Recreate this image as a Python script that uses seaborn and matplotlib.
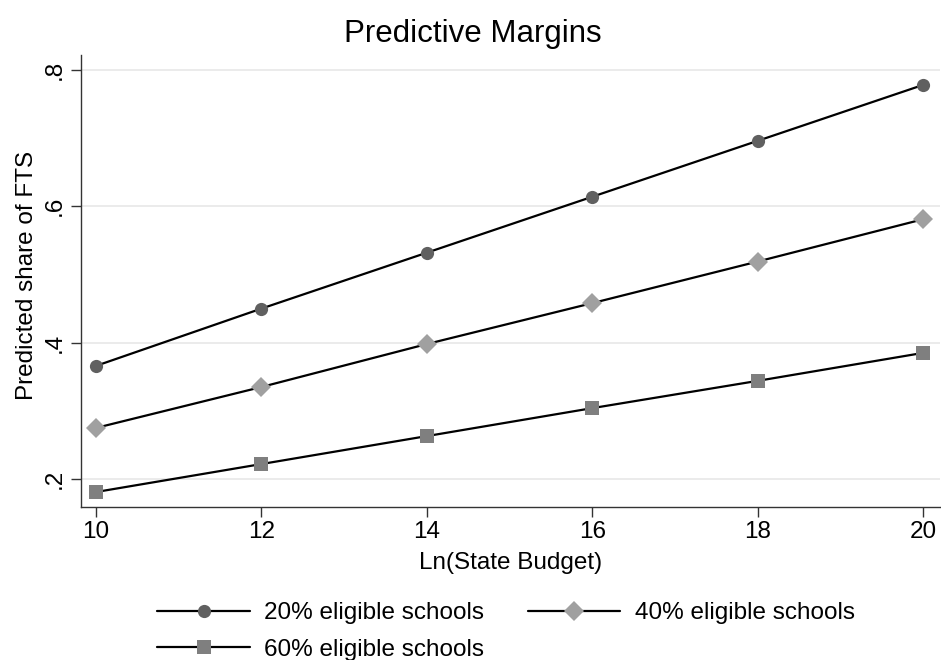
import numpy as np
import pandas as pd
import matplotlib
matplotlib.use("Agg")
import matplotlib.pyplot as plt
import seaborn as sns

# Predictive margins by share of eligible schools
budget = [10, 12, 14, 16, 18, 20]
groups = ["20% eligible schools", "40% eligible schools", "60% eligible schools"]
share_20 = [0.366, 0.450, 0.532, 0.614, 0.696, 0.778]
share_40 = [0.275, 0.335, 0.398, 0.458, 0.519, 0.581]
share_60 = [0.181, 0.222, 0.263, 0.304, 0.344, 0.385]
y_ticks = [0.2, 0.4, 0.6, 0.8]
y_tick_labels = [".2", ".4", ".6", ".8"]
x_ticks = [10, 12, 14, 16, 18, 20]

markers = ["o", "D", "s"]
marker_colors = ["#606060", "#a0a0a0", "#7f7f7f"]
marker_sizes = [9.5, 10, 10]

df = pd.DataFrame({
    "budget": budget * 3,
    "share": share_20 + share_40 + share_60,
    "group": [g for g in groups for _ in budget],
})

sns.set_style("white")
plt.rcParams["font.family"] = ["Liberation Sans", "DejaVu Sans"]
plt.rcParams["text.color"] = "black"

fig = plt.figure(figsize=(9.41, 6.60), dpi=100)
ax = fig.add_axes([0.0861, 0.2318, 0.9128, 0.6849])

sns.lineplot(data=df, x="budget", y="share", hue="group", style="group",
             hue_order=groups, style_order=groups,
             palette=["black"] * 3, markers=markers, dashes=False,
             linewidth=1.6, legend=False, ax=ax)

lines = ax.lines[:3]
for ln, fc, ms in zip(lines, marker_colors, marker_sizes):
    ln.set_markerfacecolor(fc)
    ln.set_markeredgecolor(fc)
    ln.set_markersize(ms)
    ln.set_markeredgewidth(0)
    ln.set_clip_on(False)

ax.set_xlim(9.819, 20.206)
ax.set_ylim(0.159, 0.822)
ax.set_xticks(x_ticks)
ax.set_yticks(y_ticks)
ax.set_yticklabels(y_tick_labels)

ax.grid(axis="y", color="#e8e8e8", linewidth=1.2)
ax.grid(axis="x", visible=False)
ax.set_axisbelow(True)

for side in ["top", "right"]:
    ax.spines[side].set_visible(False)
for side in ["left", "bottom"]:
    ax.spines[side].set_color("#333333")
    ax.spines[side].set_linewidth(1.0)

ax.tick_params(axis="both", which="major", direction="out", length=7,
               width=1.0, color="#333333", labelsize=17.5, labelcolor="black",
               left=True, bottom=True)
ax.tick_params(axis="y", labelrotation=90, pad=4)
ax.tick_params(axis="x", pad=3)
for lab in ax.get_yticklabels():
    lab.set_va("center")

ax.set_title("Predictive Margins", fontsize=22.5, pad=9, color="black",
             x=0.456)
ax.set_xlabel("Ln(State Budget)", fontsize=17.5, color="black")
ax.set_ylabel("Predicted share of FTS", fontsize=17.5, color="black")
ax.xaxis.set_label_coords(0.5, -0.10)
ax.yaxis.set_label_coords(-0.050, 0.513)

# Row-major order for a two-column legend
order = [0, 2, 1]
handles = [lines[i] for i in order]
labels = [groups[i] for i in order]
leg = fig.legend(handles, labels, loc="center", bbox_to_anchor=(0.538, 0.043),
                 ncol=2, frameon=False, fontsize=17.5, handlelength=3.8,
                 handletextpad=0.6, columnspacing=1.8, labelspacing=0.6)
for t in leg.get_texts():
    t.set_color("black")

fig.savefig("out.png", dpi=100)
